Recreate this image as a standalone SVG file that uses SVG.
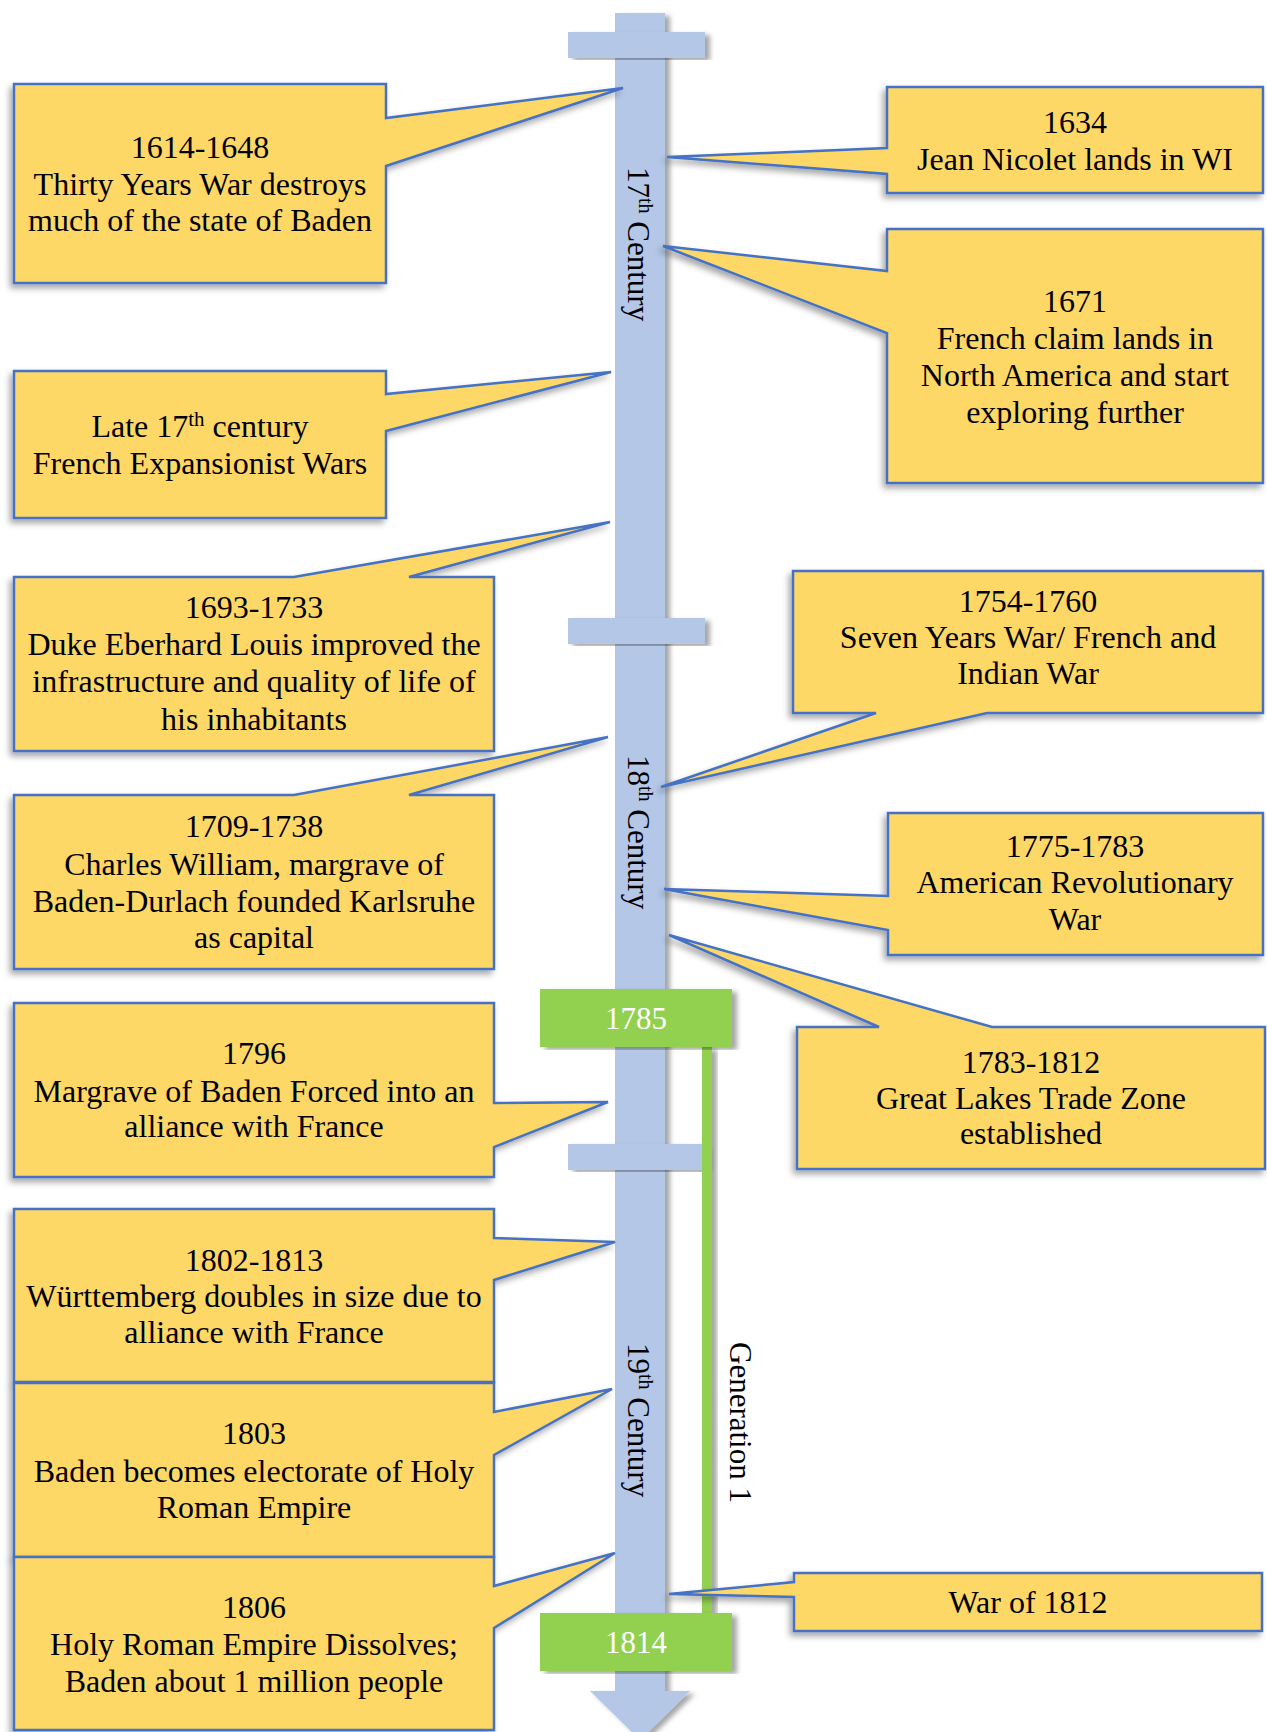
<svg xmlns="http://www.w3.org/2000/svg" width="1267" height="1732" viewBox="0 0 1267 1732">
<defs>
<style>
.box{fill:#FED866;stroke:#4472C4;stroke-width:2.5;stroke-linejoin:miter;filter:url(#shL)}
.bar{fill:#B4C7E7}
.grn{fill:#92D050}
.t{font-family:"Liberation Serif","Times New Roman",serif;font-size:32px;fill:#000;text-anchor:middle}
.tw{font-family:"Liberation Serif","Times New Roman",serif;font-size:31px;fill:#fff;text-anchor:middle}
.vt{font-family:"Liberation Serif","Times New Roman",serif;font-size:31px;fill:#000}
</style>
<filter id="shL" x="-10%" y="-15%" width="120%" height="135%">
<feDropShadow dx="-3" dy="4" stdDeviation="3" flood-color="#000" flood-opacity="0.35"/>
</filter>
<filter id="shR" x="-60%" y="-5%" width="220%" height="110%">
<feDropShadow dx="5" dy="3" stdDeviation="2.5" flood-color="#000" flood-opacity="0.35"/>
</filter>
</defs>
<rect width="1267" height="1732" fill="#fff"/>

<g id="timeline">
<g filter="url(#shR)">
<rect class="bar" x="615" y="13" width="50" height="1680"/>
<polygon class="bar" points="590,1691 690,1691 640,1740"/>
</g>
<rect class="bar" x="568" y="32" width="137" height="26" filter="url(#shR)"/>
<rect class="bar" x="568" y="618" width="137" height="26" filter="url(#shR)"/>
<rect class="bar" x="568" y="1144" width="137" height="26" filter="url(#shR)"/>
<text class="vt" transform="translate(628,167) rotate(90)">17<tspan font-size="20" dy="-11">th</tspan><tspan dy="11"> Century</tspan></text>
<text class="vt" transform="translate(628,755) rotate(90)">18<tspan font-size="20" dy="-11">th</tspan><tspan dy="11"> Century</tspan></text>
<text class="vt" transform="translate(628,1343) rotate(90)">19<tspan font-size="20" dy="-11">th</tspan><tspan dy="11"> Century</tspan></text>
</g>

<g id="connectors">
<rect class="grn" x="702" y="1047" width="10" height="566" filter="url(#shR)"/>
</g>

<g id="gen1-label">
<text class="vt" transform="translate(730,1342) rotate(90)">Generation 1</text>
</g>

<g id="e1614">
<path class="box" d="M14,84 H386 V118 L623,88 L386,166 V283 H14 Z"/>
<text class="t" x="200" y="158">1614-1648</text>
<text class="t" x="200" y="195">Thirty Years War destroys</text>
<text class="t" x="200" y="231">much of the state of Baden</text>
</g>

<g id="e1634">
<path class="box" d="M887,87 H1263 V193 H887 V174 L667,157 L887,148 Z"/>
<text class="t" x="1075" y="133">1634</text>
<text class="t" x="1075" y="170">Jean Nicolet lands in WI</text>
</g>

<g id="e1671">
<path class="box" d="M887,229 H1263 V483 H887 V333 L663,246 L887,271 Z"/>
<text class="t" x="1075" y="312">1671</text>
<text class="t" x="1075" y="349">French claim lands in</text>
<text class="t" x="1075" y="386">North America and start</text>
<text class="t" x="1075" y="423">exploring further</text>
</g>

<g id="eLate17">
<path class="box" d="M14,371 H386 V394 L611,372 L386,431 V518 H14 Z"/>
<text class="t" x="200" y="437">Late 17<tspan font-size="21" dy="-11">th</tspan><tspan dy="11"> century</tspan></text>
<text class="t" x="200" y="474">French Expansionist Wars</text>
</g>

<g id="e1693">
<path class="box" d="M14,577 H294 L610,522 L409,577 H494 V751 H14 Z"/>
<text class="t" x="254" y="618">1693-1733</text>
<text class="t" x="254" y="655">Duke Eberhard Louis improved the</text>
<text class="t" x="254" y="692">infrastructure and quality of life of</text>
<text class="t" x="254" y="730">his inhabitants</text>
</g>

<g id="e1754">
<path class="box" d="M793,571 H1263 V713 H987 L661,787 L876,713 H793 Z"/>
<text class="t" x="1028" y="612">1754-1760</text>
<text class="t" x="1028" y="648">Seven Years War/ French and</text>
<text class="t" x="1028" y="684">Indian War</text>
</g>

<g id="e1709">
<path class="box" d="M14,795 H294 L608,737 L409,795 H494 V969 H14 Z"/>
<text class="t" x="254" y="837">1709-1738</text>
<text class="t" x="254" y="875">Charles William, margrave of</text>
<text class="t" x="254" y="912">Baden-Durlach founded Karlsruhe</text>
<text class="t" x="254" y="948">as capital</text>
</g>

<g id="e1775">
<path class="box" d="M888,813 H1263 V955 H888 V930 L664,889 L888,896 Z"/>
<text class="t" x="1075" y="857">1775-1783</text>
<text class="t" x="1075" y="893">American Revolutionary</text>
<text class="t" x="1075" y="930">War</text>
</g>

<g id="e1783">
<path class="box" d="M797,1027 H879 L669,935 L992,1027 H1265 V1169 H797 Z"/>
<text class="t" x="1031" y="1073">1783-1812</text>
<text class="t" x="1031" y="1109">Great Lakes Trade Zone</text>
<text class="t" x="1031" y="1144">established</text>
</g>

<g id="e1796">
<path class="box" d="M14,1003 H494 V1103 L608,1102 L494,1147 V1177 H14 Z"/>
<text class="t" x="254" y="1064">1796</text>
<text class="t" x="254" y="1102">Margrave of Baden Forced into an</text>
<text class="t" x="254" y="1137">alliance with France</text>
</g>

<g id="e1802">
<path class="box" d="M14,1209 H494 V1238 L615,1242 L494,1280 V1382 H14 Z"/>
<text class="t" x="254" y="1271">1802-1813</text>
<text class="t" x="254" y="1307">Württemberg doubles in size due to</text>
<text class="t" x="254" y="1343">alliance with France</text>
</g>

<g id="e1803">
<path class="box" d="M14,1383 H494 V1412 L612,1389 L494,1455 V1557 H14 Z"/>
<text class="t" x="254" y="1444">1803</text>
<text class="t" x="254" y="1482">Baden becomes electorate of Holy</text>
<text class="t" x="254" y="1518">Roman Empire</text>
</g>

<g id="e1806">
<path class="box" d="M14,1557 H494 V1586 L615,1553 L494,1628 V1730 H14 Z"/>
<text class="t" x="254" y="1618">1806</text>
<text class="t" x="254" y="1655">Holy Roman Empire Dissolves;</text>
<text class="t" x="254" y="1692">Baden about 1 million people</text>
</g>

<g id="e1812">
<path class="box" d="M794,1573 H1262 V1631 H794 V1597 L669,1594 L794,1582 Z"/>
<text class="t" x="1028" y="1613">War of 1812</text>
</g>

<g id="y1785">
<rect class="grn" x="540" y="989" width="192" height="58" filter="url(#shR)"/>
<text class="tw" x="636" y="1029">1785</text>
</g>

<g id="y1814">
<rect class="grn" x="540" y="1613" width="192" height="58" filter="url(#shR)"/>
<text class="tw" x="636" y="1653">1814</text>
</g>
</svg>
